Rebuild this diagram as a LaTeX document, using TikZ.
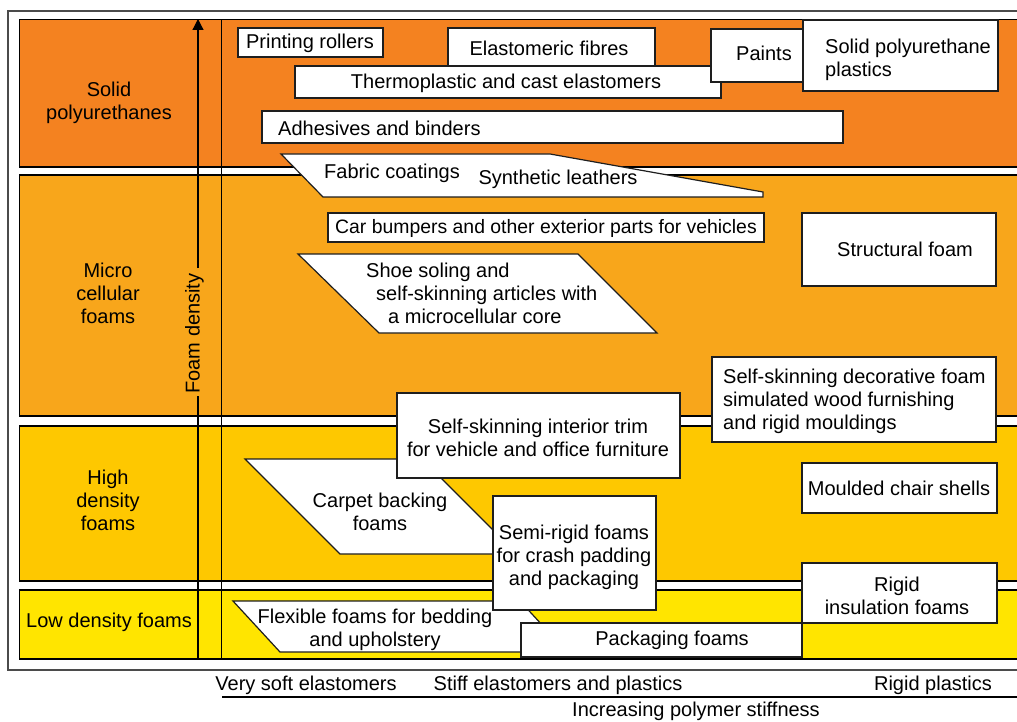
\documentclass[tikz,border=0pt]{standalone}
\usepackage{fontspec}
\setmainfont{Liberation Sans}
\usetikzlibrary{arrows.meta}
\definecolor{solidc}{RGB}{244,130,32}
\definecolor{microc}{RGB}{248,166,27}
\definecolor{highc}{RGB}{254,200,0}
\definecolor{lowc}{RGB}{255,229,0}
\definecolor{edge}{RGB}{30,30,30}
\begin{document}
\begin{tikzpicture}[x=1pt,y=-1pt,
  frame/.style={draw=edge!80, line width=1.5pt},
  band/.style={draw=black, line width=1.2pt},
  wbox/.style={draw=edge, fill=white, line width=1.2pt},
  lbl/.style={inner sep=0pt, font=\fontsize{20}{23}\selectfont, align=center, yshift=-1.5pt},
  lbll/.style={inner sep=0pt, font=\fontsize{20}{23}\selectfont, align=left, yshift=-1.5pt},
]
\useasboundingbox (0,0) rectangle (1017,722);
\begin{scope}
\clip (0,0) rectangle (1017,722);
% frame and bands
\draw[frame] (8,11) rectangle (1040,670);
\draw[band, fill=solidc] (19.5,19.5) rectangle (1040,167);
\draw[band, fill=microc] (19.5,175) rectangle (1040,416);
\draw[band, fill=highc] (19.5,426) rectangle (1040,581);
\draw[band, fill=lowc] (19.5,590) rectangle (1040,659);
% axes
\coordinate (vtop) at (221.5,19.5);
\coordinate (vbot) at (221.5,659);
\draw[line width=1.2pt] (vtop) -- (vbot);
\node[lbl, rotate=90, inner sep=3pt, yshift=1.5pt] (fd) at (196,332) {Foam density};
\coordinate (atop) at (198,19);
\coordinate (abot) at (198,659);
\draw[line width=1.2pt, -{Triangle[width=11pt,length=11pt]}] (198,268) -- (atop);
\draw[line width=1.2pt] (198,396) -- (abot);
% band labels
\node[lbl] (lsolid) at (109,101) {Solid\\polyurethanes};
\node[lbl] (lmicro) at (108,292) {Micro\\cellular\\foams};
\node[lbl] (lhigh) at (108,499) {High\\density\\foams};
\node[lbl] (llow) at (109,621) {Low density foams};
% boxes
\draw[wbox] (238,28) rectangle (383,57);
\node[lbl] (print) at (310,42) {Printing rollers};
\draw[wbox] (448,28) rectangle (655,75);
\node[lbl] (elast) at (549,47) {Elastomeric fibres};
\draw[wbox] (295,66) rectangle (721,98);
\node[lbl] (thermo) at (506,82) {Thermoplastic and cast elastomers};
\draw[wbox] (711,29) rectangle (820,82);
\node[lbl] (paints) at (764,52) {Paints};
\draw[wbox] (803,20) rectangle (998,91);
\node[lbll, anchor=west] (solidpu) at (825,58) {Solid polyurethane\\plastics};
\draw[wbox] (262,111) rectangle (843,143);
\node[lbll, anchor=west] (adh) at (278,127) {Adhesives and binders};
\draw[wbox] (281,154) -- (550,154) -- (763,192) -- (763,197) -- (323,197) -- cycle;
\node[lbl] (fabric) at (392,172) {Fabric coatings};
\node[lbl] (synth) at (558,178) {Synthetic leathers};
\draw[wbox] (328,213) rectangle (764,242);
\node[lbl, font=\fontsize{19.4}{23}\selectfont] (car) at (546,227) {Car bumpers and other exterior parts for vehicles};
\draw[wbox] (298,254) -- (578,254) -- (657,333) -- (379,333) -- cycle;
\node[lbll, anchor=west] (shoe) at (366,292) {Shoe soling and\\\hspace*{10pt}self-skinning articles with\\\hspace*{22pt}a microcellular core};
\draw[wbox] (802,213) rectangle (996,286);
\node[lbl] (struct) at (905,248) {Structural foam};
\draw[wbox] (712,357) rectangle (996,442);
\node[lbll, anchor=west] (deco) at (723,400) {Self-skinning decorative foam\\simulated wood furnishing\\and rigid mouldings};
\draw[wbox] (245,459) -- (422,459) -- (517,554) -- (340,554) -- cycle;
\node[lbl] (carpet) at (380,510) {Carpet backing\\foams};
\draw[wbox] (397,393) rectangle (680,478);
\node[lbl] (trim) at (538,436) {Self-skinning interior trim\\for vehicle and office furniture};
\draw[wbox] (233,601) -- (520,601) -- (567,652) -- (280,652) -- cycle;
\node[lbl] (flex) at (375,628) {Flexible foams for bedding\\and upholstery};
\draw[wbox] (493,496) rectangle (656,610);
\node[lbl] (semi) at (574,556) {Semi-rigid foams\\for crash padding\\and packaging};
\draw[wbox] (521,623) rectangle (802,657);
\node[lbl] (pack) at (672,639) {Packaging foams};
\draw[wbox] (802,463) rectangle (997,513);
\node[lbl] (chair) at (899,487) {Moulded chair shells};
\draw[wbox] (802,563) rectangle (997,623);
\node[lbl] (rigid) at (897,594) {Rigid\\insulation foams};
% bottom axis
\coordinate (xl) at (222,697);
\coordinate (xr) at (1040,697);
\draw[line width=1.2pt] (xl) -- (xr);
\node[lbl] (vsoft) at (306,684) {Very soft elastomers};
\node[lbl] (stiff) at (558,684) {Stiff elastomers and plastics};
\node[lbl] (rplast) at (933,684) {Rigid plastics};
\node[lbl] (incr) at (696,709.5) {Increasing polymer stiffness};
\end{scope}
\end{tikzpicture}
\end{document}
